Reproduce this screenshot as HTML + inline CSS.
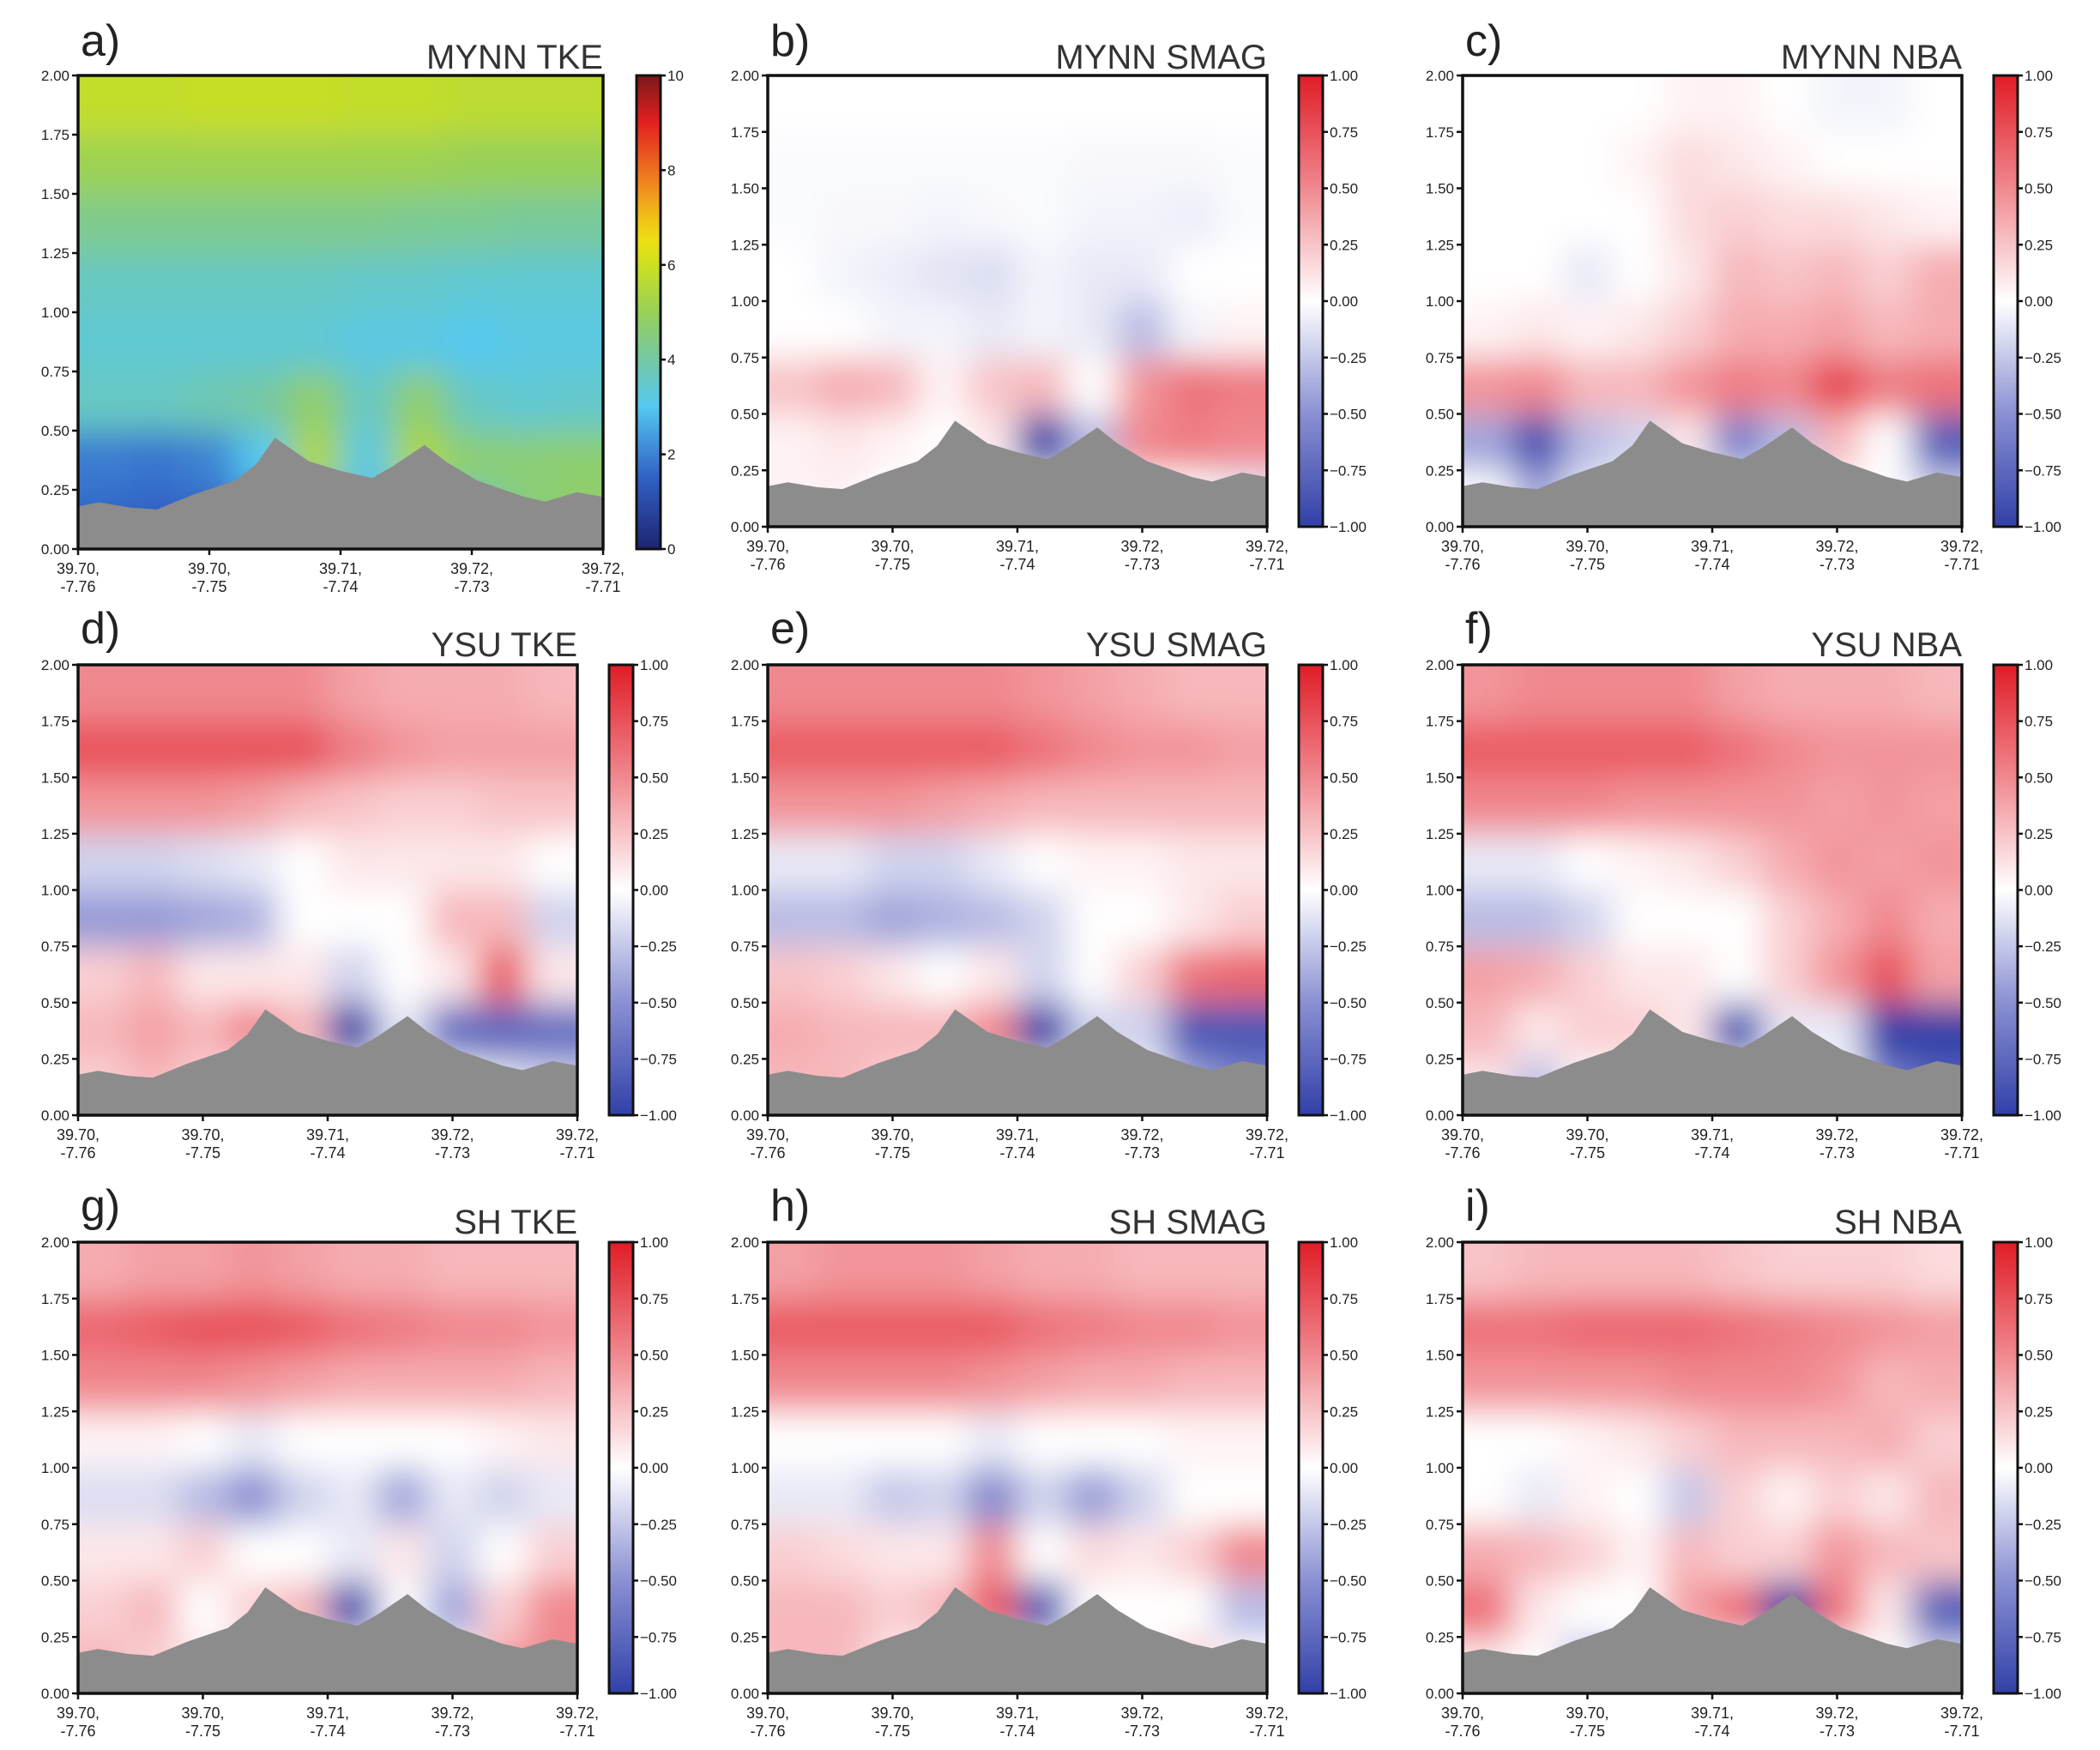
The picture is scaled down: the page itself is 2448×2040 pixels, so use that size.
<!DOCTYPE html>
<html><head><meta charset="utf-8"><style>
html,body{margin:0;padding:0;background:#fff;}
svg{display:block;font-family:"Liberation Sans",sans-serif;}
</style></head><body>
<svg id="fig" width="2448" height="2040" viewBox="0 0 2448 2040" xmlns="http://www.w3.org/2000/svg">
<defs>
<filter id="blur" x="0" y="0" width="1" height="1" filterUnits="objectBoundingBox"><feGaussianBlur stdDeviation="20" edgeMode="duplicate"/></filter>
</defs>
</svg>
<script>
// terrain profile (x fraction, height km)
const terrainX = [0,0.04,0.1,0.15,0.22,0.3,0.34,0.375,0.44,0.5,0.56,0.6,0.66,0.7,0.76,0.85,0.89,0.95,1.0];
const terrainH = [0.18,0.197,0.175,0.167,0.23,0.29,0.36,0.47,0.37,0.33,0.30,0.35,0.44,0.37,0.29,0.22,0.20,0.24,0.22];
const yTicks = ["0.00","0.25","0.50","0.75","1.00","1.25","1.50","1.75","2.00"];
const yTickVals = [0,0.25,0.5,0.75,1,1.25,1.5,1.75,2];
const xTickLat = ["39.70,","39.70,","39.71,","39.72,","39.72,"];
const xTickLon = ["-7.76","-7.75","-7.74","-7.73","-7.71"];
const xTickVals = [0,0.25,0.5,0.75,1];
const cbTicksBwr = ["\u22121.00","\u22120.75","\u22120.50","\u22120.25","0.00","0.25","0.50","0.75","1.00"];
const cbValsBwr = [-1,-0.75,-0.5,-0.25,0,0.25,0.5,0.75,1];
const cbTicksTke = ["0","2","4","6","8","10"];
const cbValsTke = [0,2,4,6,8,10];
const panelTitles = ["MYNN TKE","MYNN SMAG","MYNN NBA","YSU TKE","YSU SMAG","YSU NBA","SH TKE","SH SMAG","SH NBA"];
const panelLetters = ["a)","b)","c)","d)","e)","f)","g)","h)","i)"];
// gridded field values, rows bottom(0-0.25km) -> top(1.75-2km), 10 columns
const fieldA = [
[1.6,1.5,1.5,1.8,2.3,2.8,3,3.5,4.5,4.8],
[1.9,1.8,2.0,3,5.4,3.2,5.4,4.6,4.6,4.7],
[3.6,3.6,3.8,4,4.8,3.6,4.8,3.6,3.4,3.5],
[3.4,3.4,3.4,3.4,3.4,3.2,3.2,3,3.2,3.2],
[3.6,3.6,3.6,3.6,3.6,3.5,3.5,3.4,3.4,3.4],
[4.3,4.3,4.3,4.3,4.3,4.3,4.2,4.2,4.1,4.1],
[5.1,5.1,5.1,5.1,5.1,5.1,5.1,5.0,5.0,5.0],
[5.8,5.8,5.9,5.9,5.9,5.8,5.8,5.7,5.7,5.7]];
const fieldB = [
[0.05,0.05,0,0,0,0,0,0,0,-0.1],
[0.05,0.1,0.05,0,0.1,-1.0,-0.3,0.5,0.55,0.5],
[0.25,0.35,0.3,0.05,0.25,0.3,0,0.45,0.6,0.55],
[0,0,-0.05,-0.05,-0.1,-0.05,-0.1,-0.3,-0.05,0.05],
[0,-0.05,-0.08,-0.12,-0.15,-0.05,-0.1,-0.1,0,0],
[-0.02,-0.03,-0.03,-0.05,-0.03,-0.02,-0.05,-0.05,-0.08,-0.02],
[-0.02,-0.02,-0.02,-0.02,-0.02,-0.02,-0.03,-0.03,-0.03,-0.02],
[0,0,0,0,0,0,0,0,0,0]];
const fieldC = [
[0,-0.4,-0.1,0,0,0,0,0,0,-0.2],
[-0.4,-0.9,-0.3,-0.2,0.1,-0.6,-0.3,0.3,0,-0.8],
[0.45,0.5,0.3,0.3,0.45,0.55,0.5,0.8,0.55,0.6],
[0.05,0.1,0.05,0.1,0.2,0.35,0.35,0.4,0.3,0.35],
[0,0,-0.1,0,0.1,0.3,0.25,0.3,0.2,0.35],
[0,0,0,0,0.15,0.2,0.15,0.15,0.1,0.05],
[0,0,0,0.05,0.15,0.1,0.05,0,0,0],
[0,0,0,0,0.05,0.05,0,-0.05,-0.05,0]];
const fieldD = [
[0.2,0.3,0.2,0.1,0,0,0,0,-0.1,-0.2],
[0.3,0.4,0.3,0.5,0.3,-1.0,-0.1,-0.7,-0.75,-0.7],
[0.2,0.3,0.1,0.1,0.1,-0.2,0,0.1,0.7,0.1],
[-0.45,-0.45,-0.4,-0.35,0,0,0,0.3,0.3,-0.2],
[-0.2,-0.2,-0.15,-0.1,0,0.1,0.1,0.1,0.1,0],
[0.45,0.45,0.45,0.4,0.3,0.25,0.2,0.2,0.25,0.25],
[0.75,0.75,0.75,0.75,0.75,0.55,0.45,0.4,0.4,0.4],
[0.5,0.5,0.5,0.5,0.5,0.4,0.35,0.35,0.35,0.3]];
const fieldE = [
[0.3,0.3,0.2,0.1,0.1,0,0,0,-0.4,-0.6],
[0.35,0.3,0.3,0.3,0.5,-1.0,-0.2,-0.2,-0.85,-0.85],
[0.25,0.2,0.1,0,0.1,-0.2,0,0.2,0.6,0.65],
[-0.3,-0.3,-0.4,-0.35,-0.3,-0.2,0,0,0.1,0.2],
[-0.1,-0.1,-0.2,-0.2,-0.1,0,0.05,0.05,0.1,0.1],
[0.45,0.45,0.45,0.4,0.35,0.3,0.3,0.3,0.3,0.3],
[0.7,0.7,0.7,0.7,0.7,0.6,0.5,0.45,0.45,0.4],
[0.5,0.5,0.5,0.5,0.5,0.45,0.4,0.35,0.3,0.3]];
const fieldF = [
[0.1,-0.3,0,0,0,0,0,0,-0.6,-0.8],
[0.3,0.1,0.2,0.2,0.1,-0.9,-0.1,-0.1,-1.0,-1.0],
[0.4,0.35,0.2,0.1,0.1,0,0.2,0.45,0.75,0.4],
[-0.3,-0.3,-0.2,0,0,0,0.2,0.35,0.5,0.35],
[-0.1,-0.1,0,0.05,0.1,0.2,0.35,0.45,0.4,0.45],
[0.5,0.5,0.5,0.45,0.45,0.45,0.45,0.4,0.45,0.4],
[0.7,0.7,0.7,0.7,0.7,0.6,0.5,0.45,0.45,0.45],
[0.45,0.5,0.5,0.5,0.5,0.4,0.35,0.35,0.35,0.3]];
const fieldG = [
[0.3,0.2,0.1,0,0,0,0,0,0.4,0.5],
[0.2,0.3,0,0.2,0.3,-0.9,0,-0.4,0.2,0.5],
[0.1,0.1,0.2,0,0,-0.1,0.1,-0.2,0,0.2],
[-0.15,-0.15,-0.3,-0.5,-0.2,-0.1,-0.4,-0.1,-0.2,-0.1],
[0.05,0.05,0,-0.1,0,0,0,0,0.05,0.1],
[0.5,0.5,0.5,0.45,0.4,0.35,0.35,0.35,0.35,0.3],
[0.65,0.7,0.75,0.75,0.7,0.6,0.55,0.5,0.5,0.45],
[0.35,0.4,0.4,0.45,0.4,0.35,0.35,0.3,0.3,0.3]];
const fieldH = [
[0.3,0.3,0.1,0,0,0,0,0,0.2,0],
[0.3,0.3,0.2,0.3,0.7,-0.85,0,0,0,-0.3],
[0.2,0.15,0.1,0.1,0.5,0,0.15,0.1,0.2,0.5],
[-0.1,-0.1,-0.25,-0.2,-0.55,-0.2,-0.45,-0.2,0,0],
[0,0,0,0,-0.1,0,0,0,0.05,0.05],
[0.5,0.5,0.5,0.5,0.45,0.4,0.35,0.35,0.3,0.3],
[0.7,0.7,0.7,0.7,0.7,0.6,0.55,0.5,0.5,0.45],
[0.4,0.45,0.45,0.45,0.4,0.35,0.35,0.3,0.3,0.3]];
const fieldI = [
[0.1,0,-0.3,-0.1,0,0,0,0,0,-0.2],
[0.6,0.1,0,0,0.4,0.6,-1.0,0.6,0.1,-0.8],
[0.35,0.3,0.2,0.05,0.3,0.2,0.2,0.45,0.3,0.25],
[0,-0.1,0.05,0,-0.25,0.2,0.05,0.2,0.1,0.3],
[0,0,0.05,0.1,0.2,0.3,0.3,0.3,0.35,0.2],
[0.45,0.45,0.45,0.45,0.5,0.5,0.5,0.45,0.3,0.35],
[0.6,0.6,0.65,0.65,0.65,0.6,0.55,0.5,0.45,0.4],
[0.25,0.3,0.3,0.3,0.3,0.25,0.2,0.2,0.2,0.15]];
const fields = [fieldA,fieldB,fieldC,fieldD,fieldE,fieldF,fieldG,fieldH,fieldI];

const NS="http://www.w3.org/2000/svg";
const svg=document.getElementById('fig');
function mk(tag,attrs,parent){const e=document.createElementNS(NS,tag);for(const k in attrs)e.setAttribute(k,attrs[k]);(parent||svg).appendChild(e);return e;}
function hex(c){return [parseInt(c.substr(1,2),16),parseInt(c.substr(3,2),16),parseInt(c.substr(5,2),16)];}
function interp(stops,v){
  if(v<=stops[0][0])return stops[0][1];
  for(let i=1;i<stops.length;i++){if(v<=stops[i][0]){const a=stops[i-1],b=stops[i];const t=(v-a[0])/(b[0]-a[0]);const ca=hex(a[1]),cb=hex(b[1]);return 'rgb('+ca.map((x,j)=>Math.round(x+(cb[j]-x)*t)).join(',')+')';}}
  return stops[stops.length-1][1];
}
const bwrStops=[[-1,'#3140a8'],[-0.5,'#8a90d2'],[0,'#ffffff'],[0.5,'#f0888f'],[1,'#e01c26']];
const tkeStops=[[0,'#1e2470'],[1.5,'#3060c4'],[3,'#55c8f0'],[4,'#74c8a4'],[5,'#98d058'],[6,'#cce020'],[6.6,'#f2e010'],[7.6,'#f09020'],[9,'#e42020'],[10,'#7a1818']];

const rowsY=[[88,614],[775,1300],[1448,1974]];
const colsX=[[91,673,710],[895,1477,1514],[1705,2287,2324]];
function panelGeom(i){
  const r=Math.floor(i/3),c=i%3;
  let x0=colsX[c][0],x1=colsX[c][1],cb=colsX[c][2],y0=rowsY[r][0],y1=rowsY[r][1];
  if(i===0){x1=703;cb=742;y1=640;}
  return {x0,x1,y0,y1,cb,cw:28};
}
const EXT=60;
for(let p=0;p<9;p++){
  const g=panelGeom(p);
  const isTke=p===0;
  const stops=isTke?tkeStops:bwrStops;
  const grp=mk('g',{});
  
  
  const W=g.x1-g.x0,H=g.y1-g.y0;
  const sx=f=>g.x0+f*W, sy=h=>g.y1-h/2*H;
  const cid='clip'+p;
  const cp=mk('clipPath',{id:cid},grp);mk('rect',{x:g.x0,y:g.y0,width:W,height:H},cp);
  const cg=mk('g',{'clip-path':'url(#'+cid+')'},grp);
  const hm=mk('g',{filter:'url(#blur)'},cg);
  
  
  const F=fields[p],nr=F.length,nc=F[0].length;
  for(let r=0;r<nr;r++)for(let c=0;c<nc;c++){
    let x=sx(c/nc),y=sy((r+1)*2/nr),w=W/nc+1,h=H/nr+1;
    if(c===0){x-=EXT;w+=EXT;} if(c===nc-1){w+=EXT;}
    if(r===nr-1){y-=EXT;h+=EXT;} if(r===0){h+=EXT;}
    const cell=mk('rect',{x:x,y:y,width:w,height:h,fill:interp(stops,F[r][c])},hm);
    
    
  }
  let d='M'+sx(0)+','+sy(0);
  for(let k=0;k<terrainX.length;k++)d+=' L'+sx(terrainX[k]).toFixed(1)+','+sy(terrainH[k]).toFixed(1);
  d+=' L'+sx(1)+','+sy(0)+' Z';
  const ter=mk('path',{d:d,fill:'#8c8c8c','stroke-linejoin':'round'},cg);
  
  
  const frame=mk('rect',{x:g.x0,y:g.y0,width:W,height:H,fill:'none',stroke:'#111','stroke-width':3.5},grp);
  
  
  for(let k=0;k<yTickVals.length;k++){
    const y=sy(yTickVals[k]);
    mk('line',{x1:g.x0-7,x2:g.x0,y1:y,y2:y,stroke:'#111','stroke-width':2.5},grp);
    const t=mk('text',{x:g.x0-10,y:y+6,'font-size':17,'text-anchor':'end',fill:'#222'},grp);t.textContent=yTicks[k];
    
    
  }
  for(let k=0;k<xTickVals.length;k++){
    const x=sx(xTickVals[k]);
    mk('line',{x1:x,x2:x,y1:g.y1,y2:g.y1+7,stroke:'#111','stroke-width':2.5},grp);
    const t=mk('text',{x:x,y:g.y1+29,'font-size':18,'text-anchor':'middle',fill:'#222'},grp);t.textContent=xTickLat[k];
    
    
    const t2=mk('text',{x:x,y:g.y1+50,'font-size':18,'text-anchor':'middle',fill:'#222'},grp);t2.textContent=xTickLon[k];
    
    
  }
  const ly=[65,750,1423][Math.floor(p/3)], ty=[80,765,1438][Math.floor(p/3)];
  const lt=mk('text',{x:g.x0+3,y:ly,'font-size':52,fill:'#222'},grp);lt.textContent=panelLetters[p];
  
  
  const tt=mk('text',{x:g.x1,y:ty,'font-size':40,'text-anchor':'end',fill:'#333'},grp);tt.textContent=panelTitles[p];
  
  
  const gid='grad'+p;
  const lg=mk('linearGradient',{id:gid,x1:0,y1:1,x2:0,y2:0},grp);
  const vmin=isTke?0:-1,vmax=isTke?10:1;
  for(let k=0;k<=20;k++){const v=vmin+(vmax-vmin)*k/20;mk('stop',{offset:k/20,'stop-color':interp(stops,v)},lg);}
  const cbr=mk('rect',{x:g.cb,y:g.y0,width:g.cw,height:H,fill:'url(#'+gid+')',stroke:'#111','stroke-width':3},grp);
  
  
  const tv=isTke?cbValsTke:cbValsBwr, tl=isTke?cbTicksTke:cbTicksBwr;
  for(let k=0;k<tv.length;k++){
    const y=g.y1-(tv[k]-vmin)/(vmax-vmin)*H;
    mk('line',{x1:g.cb+g.cw,x2:g.cb+g.cw+6,y1:y,y2:y,stroke:'#111','stroke-width':2.5},grp);
    const t=mk('text',{x:g.cb+g.cw+8,y:y+6,'font-size':17,fill:'#222'},grp);t.textContent=tl[k];
    
    
  }
}
</script>
</body></html>
